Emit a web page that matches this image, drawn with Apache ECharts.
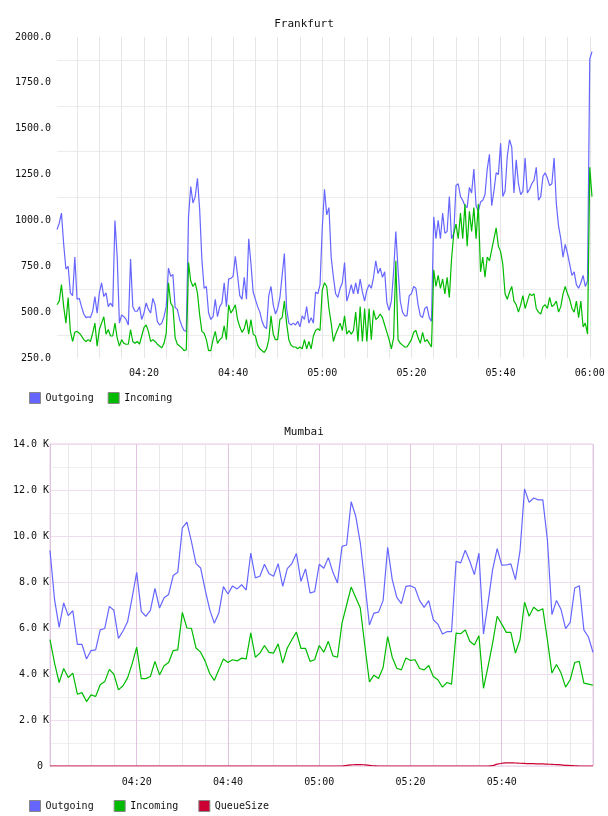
<!DOCTYPE html>
<html>
<head>
<meta charset="utf-8">
<script src="https://cdn.jsdelivr.net/npm/echarts@6/dist/echarts.min.js"></script>
<style>
  html, body { margin: 0; padding: 0; background: #fff; }
  #main { width: 608px; height: 816px; }
</style>
</head>
<body>
<div id="main"></div>
<script>
// Frankfurt: samples every 30 s from 04:00:30 to 06:00:30
var fraOutgoing = [
  950, 985, 1040, 870, 735, 750, 605, 590, 800, 570,
  575, 530, 490, 470, 475, 470, 505, 585, 495, 605,
  660, 585, 605, 530, 550, 530, 1000, 800, 440, 485,
  475, 460, 430, 790, 530, 505, 505, 530, 460, 495,
  550, 515, 495, 575, 540, 450, 430, 440, 475, 530,
  740, 695, 705, 525, 515, 460, 425, 400, 395, 1020,
  1185, 1095, 1130, 1230, 1060, 785, 630, 640, 495, 460,
  475, 570, 475, 530, 550, 660, 530, 680, 685, 695,
  805, 700, 590, 570, 690, 570, 900, 765, 610, 570,
  530, 500, 450, 420, 410, 590, 640, 540, 490, 520,
  580, 700, 820, 520, 440, 430, 440, 430, 450, 420,
  480, 460, 530, 440, 470, 440, 610, 600, 650, 960,
  1170, 1030, 1070, 800, 690, 600, 580, 630, 660, 770,
  560, 600, 650, 600, 660, 600, 680, 610, 560, 620,
  650, 630, 690, 780, 710, 740, 690, 720, 550, 510,
  560, 720, 940, 730, 560, 500, 480, 480, 590, 600,
  640, 630, 540, 480, 470, 520, 530, 470, 450, 1020,
  900, 1000, 900, 1040, 930, 940, 1130, 900, 930, 1190,
  1200, 1130, 1110, 1080, 1070, 1180, 1150, 1280, 1080, 1050,
  1100, 1110, 1140, 1280, 1360, 1080, 1160, 1260, 1250, 1420,
  1130, 1160, 1350, 1440, 1400, 1150, 1330, 1200, 1140, 1160,
  1340, 1150, 1170, 1200, 1220, 1290, 1110, 1130, 1240, 1260,
  1230, 1190, 1200, 1340, 1090, 970, 900, 800, 870, 820,
  760, 700, 720, 650, 630, 660, 700, 640, 670, 1880,
  1920
];
var fraIncoming = [
  540, 560, 650, 530, 440, 580, 395, 340, 390, 395,
  385, 370, 350, 340, 350, 340, 385, 440, 315, 405,
  440, 475, 380, 405, 370, 370, 440, 360, 315, 350,
  330, 325, 325, 405, 340, 330, 340, 325, 370, 415,
  430, 395, 340, 350, 340, 325, 315, 305, 330, 385,
  660, 550, 530, 360, 325, 315, 305, 290, 295, 770,
  670, 640, 660, 605, 485, 395, 385, 350, 290, 290,
  350, 395, 330, 350, 360, 425, 350, 540, 495, 515,
  540, 460, 420, 390, 410, 460, 380, 460, 380, 370,
  320, 300, 290, 280, 300, 350, 480, 380, 350, 350,
  460, 470, 560, 440, 350, 320, 310, 310, 300, 310,
  300, 350, 300, 340, 300, 370, 400, 410, 400, 620,
  660, 640, 520, 440, 340, 380, 410, 440, 400, 480,
  380, 400, 380, 400, 500, 340, 530, 340, 520, 340,
  520, 350, 510, 460, 470, 490, 470, 430, 390, 350,
  300, 360, 780, 350, 330, 320, 310, 310, 330, 350,
  390, 400, 360, 330, 390, 340, 350, 330, 310, 730,
  640, 700, 630, 680, 600, 690, 580, 790, 930, 980,
  900, 1040, 900, 1090, 860, 1050, 940, 1070, 900, 1090,
  720, 800, 690, 800, 780, 840, 900, 960, 860, 830,
  760, 600, 570, 610, 640, 560, 540, 500, 540, 590,
  520, 560, 600, 590, 600, 520, 500, 490, 530, 540,
  520, 580, 530, 540, 560, 500, 530, 600, 640, 600,
  570, 520, 500, 560, 470, 560, 420, 440, 380, 1290,
  1130
];

// Mumbai: samples every minute from 04:01 to 06:00
var mumOutgoing = [
  9370, 7230, 6030, 7090, 6540, 6750, 5290, 5290, 4650, 5020,
  5050, 5920, 5980, 6940, 6770, 5550, 5870, 6270, 7320, 8420,
  6720, 6510, 6770, 7720, 6870, 7320, 7460, 8280, 8420, 10350,
  10600, 9760, 8800, 8610, 7670, 6800, 6210, 6650, 7800, 7480,
  7830, 7700, 7880, 7650, 9260, 8180, 8250, 8770, 8360, 8250,
  8800, 7810, 8580, 8800, 9240, 8030, 8570, 7520, 7580, 8770,
  8600, 9060, 8420, 7960, 9550, 9610, 11490, 10860, 9700, 7960,
  6130, 6650, 6690, 7190, 9510, 8100, 7330, 7060, 7810, 7840,
  7740, 7190, 6900, 7190, 6360, 6170, 5740, 5840, 5840, 8900,
  8830, 9380, 8900, 8320, 9250, 5740, 7090, 8540, 9450, 8730,
  8740, 8790, 8100, 9340, 12050, 11460, 11650, 11570, 11570, 9850,
  6580, 7200, 6800, 5970, 6240, 7740, 7840, 5920, 5610, 4940
];
var mumIncoming = [
  5490, 4470, 3630, 4240, 3850, 4040, 3120, 3190, 2800, 3090,
  3020, 3530, 3670, 4200, 3990, 3310, 3490, 3830, 4440, 5170,
  3800, 3800, 3890, 4550, 3960, 4360, 4500, 5020, 5050, 6680,
  6000, 5980, 5130, 4950, 4560, 4020, 3720, 4180, 4650, 4500,
  4620, 4570, 4690, 4660, 5790, 4730, 4910, 5240, 4940, 4910,
  5310, 4470, 5130, 5490, 5820, 5110, 5110, 4550, 4620, 5240,
  4950, 5420, 4790, 4730, 6210, 7000, 7780, 7330, 6870, 5230,
  3660, 3950, 3800, 4280, 5630, 4730, 4250, 4180, 4700, 4590,
  4620, 4240, 4180, 4370, 3890, 3750, 3430, 3630, 3560, 5780,
  5750, 5920, 5420, 5260, 5660, 3380, 4330, 5340, 6510, 6170,
  5810, 5810, 4910, 5490, 7120, 6510, 6900, 6740, 6840, 5490,
  4040, 4410, 4040, 3430, 3750, 4500, 4550, 3600, 3560, 3510
];
var mumQueue = [
  0, 0, 0, 0, 0, 0, 0, 0, 0, 0,
  0, 0, 0, 0, 0, 0, 0, 0, 0, 0,
  0, 0, 0, 0, 0, 0, 0, 0, 0, 0,
  0, 0, 0, 0, 0, 0, 0, 0, 0, 0,
  0, 0, 0, 0, 0, 0, 0, 0, 0, 0,
  0, 0, 0, 0, 0, 0, 0, 0, 0, 0,
  0, 0, 0, 0, 0, 30, 50, 60, 60, 50,
  30, 10, 0, 0, 0, 0, 0, 0, 0, 0,
  0, 0, 0, 0, 0, 0, 0, 0, 0, 0,
  0, 0, 0, 0, 0, 0, 0, 20, 80, 120,
  140, 140, 130, 120, 110, 100, 100, 90, 90, 80,
  70, 60, 50, 30, 20, 10, 0, 0, 0, 0
];

var fraTicks = ['04:20', '04:40', '05:00', '05:20', '05:40', '06:00'];
var mumTicks = ['04:20', '04:40', '05:00', '05:20', '05:40'];

function pad(n) { return (n < 10 ? '0' : '') + n; }
function clock(sec, withSec) {
  var h = Math.floor(sec / 3600), m = Math.floor(sec / 60) % 60, s = sec % 60;
  return pad(h) + ':' + pad(m) + (withSec ? ':' + pad(s) : '');
}
var fraTimes = fraOutgoing.map(function(v, i) { return clock(4 * 3600 + 30 + i * 30, true); });
var mumTimes = mumOutgoing.map(function(v, i) { return clock(4 * 3600 + 60 + i * 60, false); });

var font = 'DejaVu Sans Mono';
var blue = '#6666ff', green = '#00bb00', red = '#cc0033';
var labelStyle = { color: '#111', fontFamily: font, fontSize: 10 };

var chart = echarts.init(document.getElementById('main'));
chart.setOption({
  animation: false,
  backgroundColor: '#fff',
  title: [
    { text: 'Frankfurt', left: 'center', top: 14, textStyle: { fontFamily: font, fontSize: 11, fontWeight: 'normal', color: '#111' } },
    { text: 'Mumbai', left: 'center', top: 422, textStyle: { fontFamily: font, fontSize: 11, fontWeight: 'normal', color: '#111' } }
  ],
  legend: [
    { data: ['Outgoing', 'Incoming'], left: 24, top: 387, icon: 'rect', itemWidth: 11, itemHeight: 11, itemGap: 14,
      itemStyle: { borderColor: '#888', borderWidth: 1 }, textStyle: labelStyle, selectedMode: false },
    { data: ['Outgoing', 'Incoming', 'QueueSize'], left: 24, top: 795, icon: 'rect', itemWidth: 11, itemHeight: 11, itemGap: 20,
      itemStyle: { borderColor: '#888', borderWidth: 1 }, textStyle: labelStyle, selectedMode: false }
  ],
  grid: [
    { left: 57, right: 16, top: 37, bottom: 458, outerBoundsMode: 'none' },
    { left: 50, right: 15, top: 444, bottom: 50, outerBoundsMode: 'none', show: true, borderColor: '#e6cce6', borderWidth: 1, backgroundColor: 'transparent' }
  ],
  xAxis: [
    {
      gridIndex: 0, type: 'category', data: fraTimes, boundaryGap: false,
      axisLine: { show: false }, axisTick: { show: false },
      axisLabel: Object.assign({ margin: 10, formatter: function(v) { return v.slice(0, 5); },
        interval: function(i, v) { return fraTicks.indexOf(v.slice(0, 5)) >= 0 && v.slice(6) === '00'; } }, labelStyle),
      splitLine: { show: true, lineStyle: { color: '#e6e6e6', width: 1 },
        interval: function(i, v) { return v.slice(6) === '00' && (+v.slice(3, 5)) % 5 === 0; } }
    },
    {
      gridIndex: 1, type: 'category', data: mumTimes, boundaryGap: false,
      axisLine: { show: false }, axisTick: { show: false },
      axisLabel: Object.assign({ margin: 11, interval: function(i, v) { return mumTicks.indexOf(v) >= 0; } }, labelStyle),
      splitLine: { show: true, lineStyle: { color: ['#e8e8e8', '#e8e8e8', '#e8e8e8', '#e0c4e0'], width: 1 },
        interval: function(i, v) { return (+v.slice(3, 5)) % 5 === 0; } }
    }
  ],
  yAxis: [
    {
      gridIndex: 0, type: 'value', min: 250, max: 2000, interval: 250,
      axisLine: { show: false }, axisTick: { show: false },
      axisLabel: Object.assign({ margin: 6, formatter: function(v) { return v.toFixed(1); } }, labelStyle),
      splitLine: { show: false },
      minorTick: { show: false, splitNumber: 2 },
      minorSplitLine: { show: true, lineStyle: { color: '#ececec', width: 1 } }
    },
    {
      gridIndex: 1, type: 'value', min: 0, max: 14000, interval: 2000,
      axisLine: { show: true, lineStyle: { color: '#e0c4e0', width: 1 } }, axisTick: { show: false },
      axisLabel: Object.assign({ margin: 1, formatter: function(v) { return v === 0 ? '0 ' : (v / 1000).toFixed(1) + ' K'; } }, labelStyle),
      splitLine: { show: true, lineStyle: { color: '#efdcef', width: 1 } },
      minorTick: { show: false, splitNumber: 2 },
      minorSplitLine: { show: true, lineStyle: { color: '#efefef', width: 1 } }
    }
  ],
  series: [
    { name: 'Outgoing', type: 'line', xAxisIndex: 0, yAxisIndex: 0, data: fraOutgoing, showSymbol: false, color: blue, lineStyle: { width: 1.2 } },
    { name: 'Incoming', type: 'line', xAxisIndex: 0, yAxisIndex: 0, data: fraIncoming, showSymbol: false, color: green, lineStyle: { width: 1.2 } },
    { name: 'Outgoing', type: 'line', xAxisIndex: 1, yAxisIndex: 1, data: mumOutgoing, showSymbol: false, color: blue, lineStyle: { width: 1.2 } },
    { name: 'Incoming', type: 'line', xAxisIndex: 1, yAxisIndex: 1, data: mumIncoming, showSymbol: false, color: green, lineStyle: { width: 1.2 } },
    { name: 'QueueSize', type: 'line', xAxisIndex: 1, yAxisIndex: 1, data: mumQueue, showSymbol: false, smooth: true, color: red, lineStyle: { width: 1.2 } }
  ]
});
</script>
</body>
</html>
